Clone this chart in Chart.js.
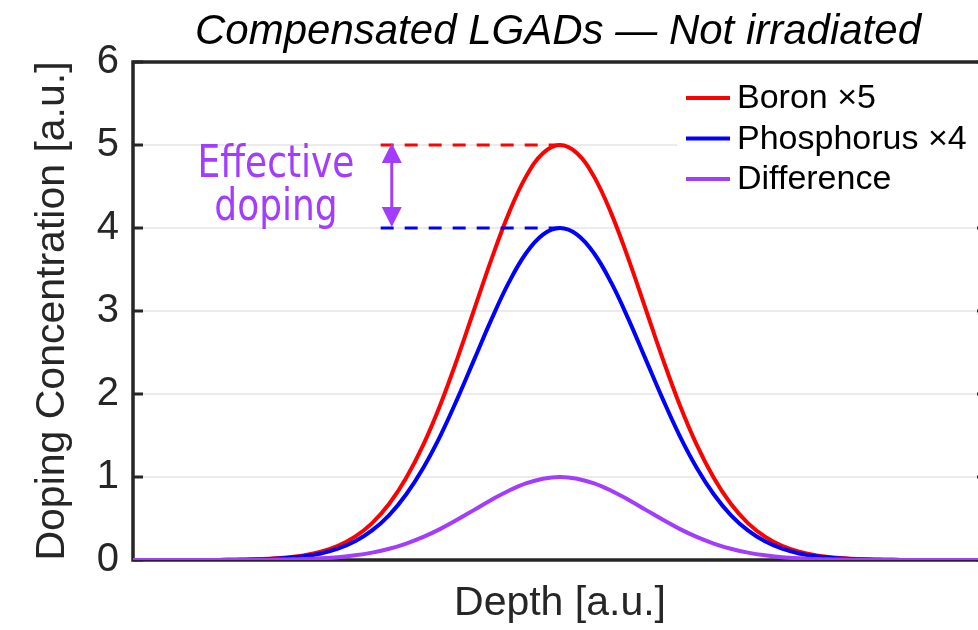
<!DOCTYPE html>
<html>
<head>
<meta charset="utf-8">
<title>Compensated LGADs</title>
<script src="https://cdn.jsdelivr.net/npm/chart.js@4.4.1/dist/chart.umd.min.js"></script>
<style>
  html, body { margin: 0; padding: 0; background: #fff; overflow: hidden; }
  #wrap { position: absolute; left: 0; top: 0; width: 995px; height: 630px; }
</style>
</head>
<body>
<div id="wrap"><canvas id="dopingChart"></canvas></div>
<script>
// Depth samples (a.u.) and doping profiles
const depth = [0, 2, 4, 6, 8, 10, 12, 14, 16, 18, 20, 22, 24, 26, 28, 30, 32, 34, 36, 38,
  40, 42, 44, 46, 48, 50, 52, 54, 56, 58, 60, 62, 64, 66, 68, 70, 72, 74, 76, 78,
  80, 82, 84, 86, 88, 90, 92, 94, 96, 98, 100];

const boron = [0, 0, 0, 0, 0, 0.001, 0.004, 0.008, 0.016, 0.030, 0.056, 0.099, 0.170,
  0.281, 0.444, 0.677, 0.991, 1.390, 1.874, 2.433, 3.033, 3.631, 4.176, 4.616, 4.901, 5.000,
  4.901, 4.616, 4.176, 3.631, 3.033, 2.433, 1.874, 1.390, 0.991, 0.677, 0.444, 0.281, 0.170,
  0.099, 0.056, 0.030, 0.016, 0.008, 0.004, 0.001, 0, 0, 0, 0, 0];

const phosphorus = [0, 0, 0, 0, 0, 0.001, 0.003, 0.006, 0.012, 0.024, 0.044, 0.079, 0.136,
  0.225, 0.356, 0.541, 0.792, 1.112, 1.499, 1.947, 2.426, 2.905, 3.341, 3.693, 3.921, 4.000,
  3.921, 3.693, 3.341, 2.905, 2.426, 1.947, 1.499, 1.112, 0.792, 0.541, 0.356, 0.225, 0.136,
  0.079, 0.044, 0.024, 0.012, 0.006, 0.003, 0.001, 0, 0, 0, 0, 0];

const difference = [0, 0, 0, 0, 0, 0, 0.001, 0.002, 0.004, 0.007, 0.011, 0.020, 0.034,
  0.056, 0.089, 0.135, 0.198, 0.278, 0.375, 0.487, 0.607, 0.726, 0.835, 0.923, 0.980, 1.000,
  0.980, 0.923, 0.835, 0.726, 0.607, 0.487, 0.375, 0.278, 0.198, 0.135, 0.089, 0.056, 0.034,
  0.020, 0.011, 0.007, 0.004, 0.002, 0.001, 0, 0, 0, 0, 0, 0];

const seriesNames = ['Boron \u00d75', 'Phosphorus \u00d74', 'Difference'];
const seriesColors = ['#ff0000', '#0000ff', '#a23cff'];
const yTicks = [0, 1, 2, 3, 4, 5, 6];

const titleText = 'Compensated LGADs \u2014 Not irradiated';
const effectiveLines = ['Effective', 'doping'];
const peakLevels = [5, 4]; // boron and phosphorus peaks

const SANS = "'Liberation Sans', Helvetica, Arial, sans-serif";
const AXIS_DARK = '#262626';

const toPoints = ys => depth.map((x, i) => ({ x: x, y: ys[i] }));

// frame, inward ticks, title, effective-doping annotation and legend
const decorations = {
  id: 'decorations',
  beforeDatasetsDraw(chart) {
    const { ctx, chartArea: a, scales: { y } } = chart;
    ctx.save();
    ctx.strokeStyle = AXIS_DARK;
    ctx.lineWidth = 3.5;
    ctx.strokeRect(a.left, a.top, a.right - a.left, a.bottom - a.top);
    ctx.lineWidth = 3;
    yTicks.forEach(v => {
      const py = y.getPixelForValue(v);
      ctx.beginPath();
      ctx.moveTo(a.left, py); ctx.lineTo(a.left + 10, py);
      ctx.moveTo(a.right, py); ctx.lineTo(a.right - 10, py);
      ctx.stroke();
    });
    ctx.restore();
  },
  afterDatasetsDraw(chart) {
    const { ctx, chartArea: a, scales: { x, y } } = chart;
    ctx.save();

    // title
    ctx.fillStyle = '#000';
    ctx.font = 'italic 42px ' + SANS;
    ctx.textAlign = 'center';
    ctx.textBaseline = 'middle';
    ctx.fillText(titleText, 558, 32);

    // dashed guides at the two peak heights
    const x0 = x.getPixelForValue(29);
    const x1 = x.getPixelForValue(50);
    ctx.lineWidth = 3;
    ctx.setLineDash([13, 11]);
    [seriesColors[0], seriesColors[1]].forEach((c, i) => {
      const py = y.getPixelForValue(peakLevels[i]);
      ctx.strokeStyle = c;
      ctx.beginPath();
      ctx.moveTo(x0, py); ctx.lineTo(x1, py);
      ctx.stroke();
    });
    ctx.setLineDash([]);

    // double arrow between the peaks
    const ax = x.getPixelForValue(30.3);
    const yTop = y.getPixelForValue(peakLevels[0]) - 2;
    const yBot = y.getPixelForValue(peakLevels[1]) - 1;
    const head = 20, half = 10;
    ctx.strokeStyle = seriesColors[2];
    ctx.fillStyle = seriesColors[2];
    ctx.lineWidth = 3;
    ctx.beginPath();
    ctx.moveTo(ax, yTop + head); ctx.lineTo(ax, yBot - head);
    ctx.stroke();
    ctx.beginPath();
    ctx.moveTo(ax, yTop); ctx.lineTo(ax - half, yTop + head); ctx.lineTo(ax + half, yTop + head);
    ctx.closePath(); ctx.fill();
    ctx.beginPath();
    ctx.moveTo(ax, yBot); ctx.lineTo(ax - half, yBot - head); ctx.lineTo(ax + half, yBot - head);
    ctx.closePath(); ctx.fill();

    // label, drawn slightly taller than the stock face
    ctx.font = "40px Tahoma, 'DejaVu Sans Condensed', 'DejaVu Sans', sans-serif";
    ctx.textAlign = 'center';
    ctx.textBaseline = 'middle';
    ctx.save();
    ctx.translate(276, 187);
    ctx.scale(1, 1.12);
    ctx.fillText(effectiveLines[0], 0, -19);
    ctx.fillText(effectiveLines[1], 0, 19);
    ctx.restore();

    // legend on a white box
    const lx = 677;
    ctx.fillStyle = '#fff';
    ctx.fillRect(lx, 74, chart.width - lx, 124);
    ctx.font = '34px ' + SANS;
    ctx.textAlign = 'left';
    ctx.lineWidth = 4;
    seriesNames.forEach((name, i) => {
      const ly = 98 + i * 40.5;
      ctx.strokeStyle = seriesColors[i];
      ctx.beginPath();
      ctx.moveTo(lx + 9, ly); ctx.lineTo(lx + 53, ly);
      ctx.stroke();
      ctx.fillStyle = '#000';
      ctx.fillText(name, lx + 60, ly + 1);
    });
    ctx.restore();
  }
};

new Chart(document.getElementById('dopingChart'), {
  type: 'line',
  data: {
    datasets: [
      { label: seriesNames[0], data: toPoints(boron), borderColor: seriesColors[0], order: 3 },
      { label: seriesNames[1], data: toPoints(phosphorus), borderColor: seriesColors[1], order: 2 },
      { label: seriesNames[2], data: toPoints(difference), borderColor: seriesColors[2], order: 1 }
    ]
  },
  options: {
    responsive: true,
    maintainAspectRatio: false,
    animation: false,
    layout: { padding: { top: 62, right: 8, bottom: 0, left: 0 } },
    elements: {
      line: { borderWidth: 4, tension: 0.4, fill: false, borderJoinStyle: 'round' },
      point: { radius: 0, hoverRadius: 0 }
    },
    scales: {
      x: {
        type: 'linear',
        min: 0,
        max: 100,
        grid: { display: false },
        border: { display: false },
        ticks: { display: false },
        title: {
          display: true,
          text: 'Depth [a.u.]',
          color: AXIS_DARK,
          font: { family: SANS, size: 41 },
          padding: { top: 20, bottom: 2 }
        },
        afterFit: s => { s.height = 70; }
      },
      y: {
        min: 0,
        max: 6,
        grid: { color: '#ebebeb', lineWidth: 2, drawTicks: false },
        border: { display: false },
        ticks: {
          stepSize: 1,
          padding: 14,
          color: AXIS_DARK,
          font: { family: SANS, size: 40 }
        },
        title: {
          display: true,
          text: 'Doping Concentration [a.u.]',
          color: AXIS_DARK,
          font: { family: SANS, size: 41 },
          padding: { top: 28, bottom: 0 }
        },
        afterFit: s => { s.width = 133; }
      }
    },
    plugins: {
      legend: { display: false },
      tooltip: { enabled: false }
    }
  },
  plugins: [decorations]
});
</script>
</body>
</html>
